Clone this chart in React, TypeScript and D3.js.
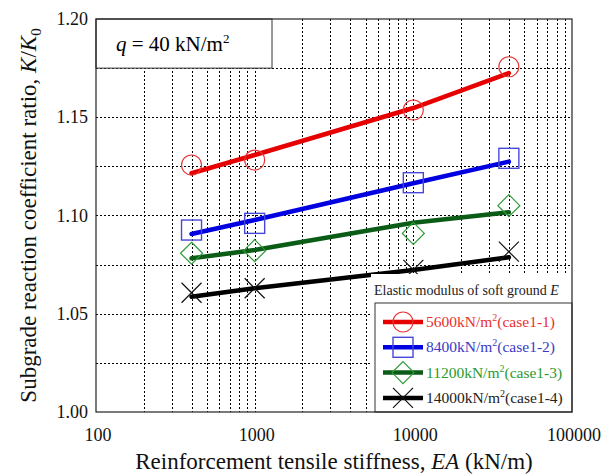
import React, { useEffect, useRef } from 'react'
import * as d3 from 'd3'

// reinforcement tensile stiffness EA (kN/m) of each case
var stiffness = [400, 1000, 10000, 40000]

// measured K/K0 (markers)
var case1 = [1.1257, 1.1282, 1.1537, 1.1757]
var case2 = [1.0926, 1.0960, 1.1167, 1.1291]
var case3 = [1.0808, 1.0821, 1.0909, 1.1050]
var case4 = [1.0607, 1.0630, 1.0723, 1.0816]

// trend lines
var fit1 = [1.1215, 1.1308, 1.1547, 1.1725]
var fit2 = [1.0906, 1.0977, 1.1164, 1.1274]
var fit3 = [1.0782, 1.0824, 1.0963, 1.1016]
var fit4 = [1.0587, 1.0630, 1.0723, 1.0787]

var caseNames = ['5600', '8400', '11200', '14000']
var caseTags = ['(case1-1)', '(case1-2)', '(case1-3)', '(case1-4)']
var markerTypes = ['circle', 'square', 'diamond', 'cross']

var xTicks = [100, 1000, 10000, 100000]
var yTicks = [1.0, 1.05, 1.1, 1.15, 1.2]

var lineColours = ['#e60000', '#0000e0', '#0a5c16', '#000000']
var markerColours = ['#e83434', '#4848d8', '#2e9a3a', '#111111']
var textColours = ['#e8302f', '#3a3ac8', '#2c9a2c', '#222222']

var width = 610
var height = 476
var left = 96, right = 572, top = 19, bottom = 412

var xScale = d3.scaleLog().domain([100, 100000]).range([left, right])
var yScale = d3.scaleLinear().domain([1.0, 1.2]).range([bottom, top])

var serif = "'Liberation Serif', 'DejaVu Serif', serif"

function drawMarker(g: any, type: string, cx: number, cy: number, colour: string, s: number) {
    if (type === 'circle') {
        g.append('circle').attr('cx', cx).attr('cy', cy).attr('r', s)
            .attr('fill', 'none').attr('stroke', colour).attr('stroke-width', 1.2)
    } else if (type === 'square') {
        g.append('rect').attr('x', cx - s).attr('y', cy - s).attr('width', 2 * s).attr('height', 2 * s)
            .attr('fill', 'none').attr('stroke', colour).attr('stroke-width', 1.4)
    } else if (type === 'diamond') {
        var d = s * 1.1
        g.append('path').attr('d', `M${cx},${cy - d}L${cx + d},${cy}L${cx},${cy + d}L${cx - d},${cy}Z`)
            .attr('fill', 'none').attr('stroke', colour).attr('stroke-width', 1.2)
    } else {
        g.append('path').attr('d', `M${cx - s},${cy - s}L${cx + s},${cy + s}M${cx - s},${cy + s}L${cx + s},${cy - s}`)
            .attr('fill', 'none').attr('stroke', colour).attr('stroke-width', 1.2)
    }
}

export default function App() {
    const ref = useRef<SVGSVGElement>(null)

    useEffect(() => {
        var svg = d3.select(ref.current)
        svg.selectAll('*').remove()

        svg.append('rect').attr('width', width).attr('height', height).attr('fill', 'white')

        // grid lines, one per 1..9 multiple of every decade
        var minor: number[] = []
        for (var dec = 100; dec < 100000; dec *= 10) {
            for (var k = 2; k <= 9; k++) minor.push(dec * k)
        }
        minor.push(1000, 10000)
        var grid = svg.append('g').attr('stroke', '#000').attr('stroke-width', 1).attr('stroke-dasharray', '2,2')
        grid.selectAll('line.v').data(minor).enter().append('line')
            .attr('x1', d => Math.round(xScale(d)) + 0.5).attr('x2', d => Math.round(xScale(d)) + 0.5)
            .attr('y1', top).attr('y2', bottom)
        var hLines = d3.range(1, 8).map(i => 1.0 + i * 0.025)
        grid.selectAll('line.h').data(hLines).enter().append('line')
            .attr('x1', left).attr('x2', right)
            .attr('y1', d => Math.round(yScale(d)) + 0.5).attr('y2', d => Math.round(yScale(d)) + 0.5)

        // trend lines
        var fits = [fit1, fit2, fit3, fit4]
        var line = d3.line<number>().x((d, i) => xScale(stiffness[i])).y(d => yScale(d))
        fits.forEach((f, i) => {
            svg.append('path').attr('d', line(f)).attr('fill', 'none')
                .attr('stroke', lineColours[i]).attr('stroke-width', 4.5)
                .attr('stroke-linecap', 'round')
        })

        // measured points
        var cases = [case1, case2, case3, case4]
        cases.forEach((c, i) => {
            var g = svg.append('g')
            c.forEach((v, j) => drawMarker(g, markerTypes[i], xScale(stiffness[j]), yScale(v), markerColours[i], 10))
        })

        // annotation box top-left
        svg.append('rect').attr('x', left).attr('y', top).attr('width', 176).attr('height', yScale(1.175) - top)
            .attr('fill', 'white').attr('stroke', '#333').attr('stroke-width', 1)
        var q = svg.append('text').attr('x', 116).attr('y', 51).style('font-family', serif).style('font-size', '21px')
        q.append('tspan').style('font-style', 'italic').text('q')
        q.append('tspan').text(' = 40 kN/m')
        q.append('tspan').attr('dy', -8).style('font-size', '13px').text('2')

        // legend
        var lx = 375, ly = 303
        svg.append('rect').attr('x', 371).attr('y', 274).attr('width', right - 371).attr('height', bottom - 274)
            .attr('fill', 'white')
        svg.append('rect').attr('x', lx).attr('y', ly).attr('width', right - lx).attr('height', bottom - ly)
            .attr('fill', 'white').attr('stroke', '#333').attr('stroke-width', 1)
        var lt = svg.append('text').attr('x', 374).attr('y', 295).style('font-family', serif).style('font-size', '14px')
            .attr('fill', '#222')
        lt.append('tspan').text('Elastic modulus of soft ground ')
        lt.append('tspan').style('font-style', 'italic').text('E')

        caseNames.forEach((name, i) => {
            var cy = 322 + i * 25.3
            svg.append('line').attr('x1', 383).attr('x2', 423).attr('y1', cy).attr('y2', cy)
                .attr('stroke', lineColours[i]).attr('stroke-width', 4.5)
            drawMarker(svg.append('g'), markerTypes[i], 403, cy, markerColours[i], 10)
            var t = svg.append('text').attr('x', 426).attr('y', cy + 5).style('font-family', serif)
                .style('font-size', '15.5px').attr('fill', textColours[i])
            t.append('tspan').text(name + 'kN/m')
            t.append('tspan').attr('dy', -6).style('font-size', '10px').text('2')
            t.append('tspan').attr('dy', 6).text(caseTags[i])
        })

        // plot frame
        svg.append('rect').attr('x', left).attr('y', top).attr('width', right - left).attr('height', bottom - top)
            .attr('fill', 'none').attr('stroke', '#222').attr('stroke-width', 1.2)

        // tick labels
        svg.selectAll('text.xt').data(xTicks).enter().append('text')
            .attr('x', d => xScale(d) + 2).attr('y', 441).attr('text-anchor', 'middle')
            .style('font-family', serif).style('font-size', '18px').attr('fill', '#111')
            .text(d => String(d))
        svg.selectAll('text.yt').data(yTicks).enter().append('text')
            .attr('x', 88).attr('y', d => yScale(d) + 6).attr('text-anchor', 'end')
            .style('font-family', serif).style('font-size', '18px').attr('fill', '#111')
            .text(d => d.toFixed(2))

        // axis titles
        var xt = svg.append('text').attr('x', (left + right) / 2).attr('y', 469).attr('text-anchor', 'middle')
            .style('font-family', serif).style('font-size', '23px').attr('fill', '#111')
        xt.append('tspan').text('Reinforcement tensile stiffness, ')
        xt.append('tspan').style('font-style', 'italic').text('EA')
        xt.append('tspan').text(' (kN/m)')

        var yt = svg.append('text').attr('transform', `translate(36,${(top + bottom) / 2}) rotate(-90)`)
            .attr('text-anchor', 'middle').style('font-family', serif).style('font-size', '23px').attr('fill', '#111')
        yt.append('tspan').text('Subgrade reaction coefficient ratio, ')
        yt.append('tspan').style('font-style', 'italic').text('K')
        yt.append('tspan').text('/')
        yt.append('tspan').style('font-style', 'italic').text('K')
        yt.append('tspan').attr('dy', 5).style('font-size', '15px').text('0')
    }, [])

    return (
        <svg ref={ref} width={width} height={height} style={{ position: 'absolute', left: 0, top: 0 }} />
    )
}
